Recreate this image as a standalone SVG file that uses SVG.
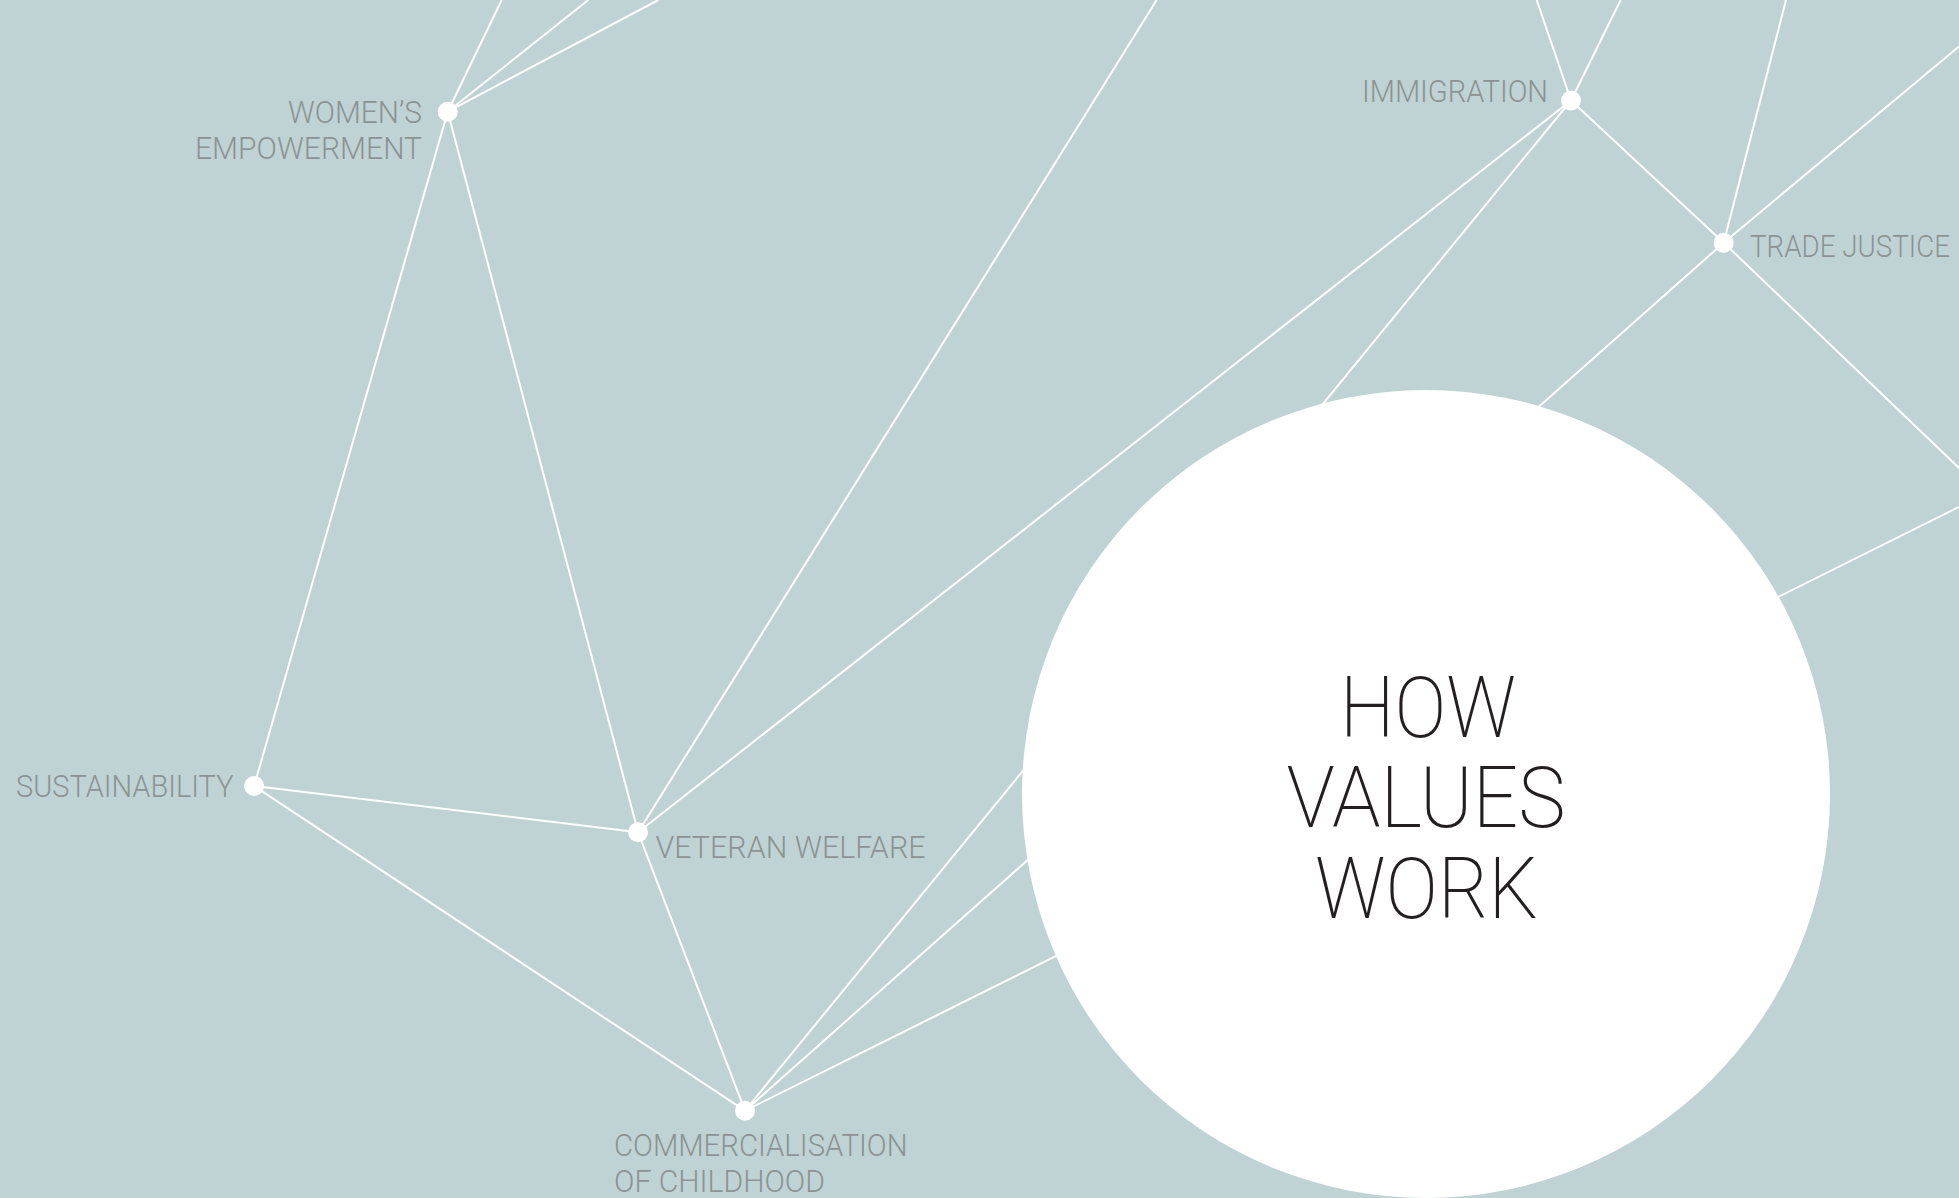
<svg xmlns="http://www.w3.org/2000/svg" width="1959" height="1198" viewBox="0 0 1959 1198">
<style>
.bg{fill:#bfd3d4}
.edge{stroke:#ffffff;stroke-width:2;fill:none}
.dot{fill:#ffffff}
.lbl{font-family:"Roboto","Liberation Sans",sans-serif;font-weight:300;font-size:31px;fill:#8b9393}
.title{font-family:"Roboto","Liberation Sans",sans-serif;font-weight:200;font-size:85px;fill:#231f20}
</style>
<rect class="bg" x="0" y="0" width="1959" height="1198"/>
<g id="connectors">
<line class="edge" x1="447.7" y1="111.7" x2="501.7" y2="0"/>
<line class="edge" x1="447.7" y1="111.7" x2="588.3" y2="0"/>
<line class="edge" x1="447.7" y1="111.7" x2="658.3" y2="0"/>
<line class="edge" x1="447.7" y1="111.7" x2="254.1" y2="786"/>
<line class="edge" x1="447.7" y1="111.7" x2="638.1" y2="832.3"/>
<line class="edge" x1="254.1" y1="786" x2="638.1" y2="832.3"/>
<line class="edge" x1="254.1" y1="786" x2="745" y2="1110.7"/>
<line class="edge" x1="638.1" y1="832.3" x2="745" y2="1110.7"/>
<line class="edge" x1="638.1" y1="832.3" x2="1156.7" y2="0"/>
<line class="edge" x1="638.1" y1="832.3" x2="1571" y2="100.5"/>
<line class="edge" x1="1571" y1="100.5" x2="1536.7" y2="0"/>
<line class="edge" x1="1571" y1="100.5" x2="1620.7" y2="0"/>
<line class="edge" x1="1571" y1="100.5" x2="1723.7" y2="242.7"/>
<line class="edge" x1="745" y1="1110.7" x2="1571" y2="100.5"/>
<line class="edge" x1="745" y1="1110.7" x2="1723.7" y2="242.7"/>
<line class="edge" x1="745" y1="1110.7" x2="1959" y2="507"/>
<line class="edge" x1="1723.7" y1="242.7" x2="1786" y2="0"/>
<line class="edge" x1="1723.7" y1="242.7" x2="1959" y2="46.5"/>
<line class="edge" x1="1723.7" y1="242.7" x2="1959" y2="468"/>
</g>
<g id="node-womens-empowerment">
<circle class="dot" cx="447.7" cy="111.7" r="10"/>
<text class="lbl" x="422" y="123.3" text-anchor="end" textLength="134" lengthAdjust="spacingAndGlyphs">WOMEN’S</text>
<text class="lbl" x="422" y="159.3" text-anchor="end" textLength="227" lengthAdjust="spacingAndGlyphs">EMPOWERMENT</text>
</g>
<g id="node-immigration">
<circle class="dot" cx="1571" cy="100.5" r="10"/>
<text class="lbl" x="1362" y="101.7" textLength="186" lengthAdjust="spacingAndGlyphs">IMMIGRATION</text>
</g>
<g id="node-trade-justice">
<circle class="dot" cx="1723.7" cy="242.7" r="10"/>
<text class="lbl" x="1750" y="256.7" textLength="200" lengthAdjust="spacingAndGlyphs">TRADE JUSTICE</text>
</g>
<g id="node-sustainability">
<circle class="dot" cx="254.1" cy="786" r="10"/>
<text class="lbl" x="16" y="797.3" textLength="217.5" lengthAdjust="spacingAndGlyphs">SUSTAINABILITY</text>
</g>
<g id="node-veteran-welfare">
<circle class="dot" cx="638.1" cy="832.3" r="10"/>
<text class="lbl" x="655.5" y="858.3" textLength="270" lengthAdjust="spacingAndGlyphs">VETERAN WELFARE</text>
</g>
<g id="node-commercialisation">
<circle class="dot" cx="745" cy="1110.7" r="10"/>
<text class="lbl" x="614" y="1156" textLength="293.5" lengthAdjust="spacingAndGlyphs">COMMERCIALISATION</text>
<text class="lbl" x="614" y="1191.7" textLength="211" lengthAdjust="spacingAndGlyphs">OF CHILDHOOD</text>
</g>
<g id="node-how-values-work">
<circle cx="1426" cy="794" r="404" fill="#ffffff"/>
<text class="title" x="1340" y="736.7" textLength="176" lengthAdjust="spacingAndGlyphs">HOW</text>
<text class="title" x="1286.5" y="827.3" textLength="279" lengthAdjust="spacingAndGlyphs">VALUES</text>
<text class="title" x="1315" y="917.7" textLength="223" lengthAdjust="spacingAndGlyphs">WORK</text>
</g>
</svg>
